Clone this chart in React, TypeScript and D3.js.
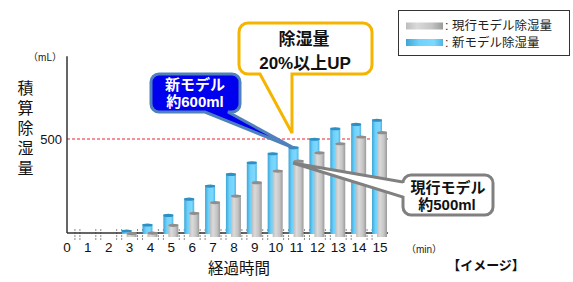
import React from 'react';
import * as d3 from 'd3';

const minutes = [0, 1, 2, 3, 4, 5, 6, 7, 8, 9, 10, 11, 12, 13, 14, 15];
const newModel = [0, 0, 0, 16, 48, 99, 185, 255, 317, 379, 427, 459, 504, 560, 583, 605];
const currentModel = [0, 0, 0, 2, 5, 46, 110, 167, 202, 273, 335, 388, 432, 480, 516, 539];
const legendLabels = [': 現行モデル除湿量', ': 新モデル除湿量'];
const yTitle = ['積', '算', '除', '湿', '量'];
const refValue = 500;

const W = 573;
const H = 282;
const font = '"Liberation Sans", "Noto Sans CJK JP", sans-serif';

// rounded rect with a tail on the bottom or left edge
const callout = (
  x: number,
  y: number,
  w: number,
  h: number,
  r: number,
  side: 'bottom' | 'left',
  b1: number,
  b2: number,
  tx: number,
  ty: number,
) => {
  const p = d3.path();
  p.moveTo(x + r, y);
  p.lineTo(x + w - r, y);
  p.arcTo(x + w, y, x + w, y + r, r);
  p.lineTo(x + w, y + h - r);
  p.arcTo(x + w, y + h, x + w - r, y + h, r);
  if (side === 'bottom') {
    p.lineTo(b2, y + h);
    p.lineTo(tx, ty);
    p.lineTo(b1, y + h);
  }
  p.lineTo(x + r, y + h);
  p.arcTo(x, y + h, x, y + h - r, r);
  if (side === 'left') {
    p.lineTo(x, b2);
    p.lineTo(tx, ty);
    p.lineTo(x, b1);
  }
  p.lineTo(x, y + r);
  p.arcTo(x, y, x + r, y, r);
  p.closePath();
  return p.toString();
};

const App = () => {
  const x = d3.scalePoint<number>().domain(minutes).range([67, 380]);
  const y = d3.scaleLinear().domain([0, 940]).range([233, 56.3]);
  const y0 = y(0);
  const step = x.step();
  const xEnd = 388;

  const bw = 10;
  const bars = (vals: number[], dx: number, fill: string, cap: string, extra: number) =>
    vals.map((v, i) =>
      v > 0 ? (
        <g key={i}>
          <rect
            x={(x(minutes[i]) as number) + dx - bw / 2}
            y={y(v)}
            width={bw}
            height={y0 - y(v) + extra}
            fill={fill}
          />
          <ellipse cx={(x(minutes[i]) as number) + dx} cy={y(v) + 1} rx={bw / 2} ry={1.6} fill={cap} />
        </g>
      ) : null,
    );

  return (
    <svg width={W} height={H} style={{ position: 'absolute', left: 0, top: 0 }} fontFamily={font}>
      <defs>
        <linearGradient id="gBlue" x1="0" x2="1" y1="0" y2="0">
          <stop offset="0" stopColor="#3ea6d6" />
          <stop offset="0.35" stopColor="#6fd2fb" />
          <stop offset="0.75" stopColor="#7dd8ff" />
          <stop offset="1" stopColor="#4fb4e2" />
        </linearGradient>
        <linearGradient id="gGrey" x1="0" x2="1" y1="0" y2="0">
          <stop offset="0" stopColor="#bdbdbd" />
          <stop offset="0.3" stopColor="#dadada" />
          <stop offset="0.7" stopColor="#c4c4c4" />
          <stop offset="1" stopColor="#9a9a9a" />
        </linearGradient>
      </defs>
      <rect width={W} height={H} fill="#fff" />

      {/* reference line */}
      <line x1={67} x2={xEnd} y1={y(refValue)} y2={y(refValue)} stroke="#e8232a" strokeWidth={1} strokeDasharray="3,2" />

      {/* x ticks */}
      {minutes.slice(0, -1).map((m) => {
        const mx = (x(m) as number) + step / 2;
        return [-2.5, 2.5].map((o) => (
          <line
            key={`${m}${o}`}
            x1={mx + o}
            x2={mx + o}
            y1={y0 - 4}
            y2={y0 + 7}
            stroke="#8a8a8a"
            strokeWidth={1}
            strokeDasharray="2,1"
          />
        ));
      })}

      {/* axes */}
      <line x1={67} x2={xEnd} y1={y0} y2={y0} stroke="#333" strokeWidth={1.5} />
      <line x1={67} x2={67} y1={y(940)} y2={y0} stroke="#333" strokeWidth={1.5} />

      {bars(newModel, -3, 'url(#gBlue)', '#2f8ec2', 1)}
      {bars(currentModel, 2, 'url(#gGrey)', '#8e8e8e', 4)}

      {/* x labels */}
      {minutes.map((m) => (
        <text key={m} x={x(m)} y={251.5} fontSize={13.5} textAnchor="middle" fill="#111">
          {m}
        </text>
      ))}
      <text x={239} y={274} fontSize={15.5} textAnchor="middle" fill="#111">経過時間</text>
      <text x={424} y={252.5} fontSize={10} textAnchor="middle" fill="#222">（min）</text>
      <text x={486} y={269.5} fontSize={13} fontWeight="bold" textAnchor="middle" fill="#111">【イメージ】</text>

      {/* y labels */}
      <text x={62} y={y(refValue) + 4.5} fontSize={13} textAnchor="end" fill="#111">{refValue}</text>
      <text x={45} y={61} fontSize={10} textAnchor="middle" fill="#222">（mL）</text>
      {yTitle.map((c, i) => (
        <text key={c} x={25.5} y={94 + i * 20} fontSize={16} textAnchor="middle" fill="#111">
          {c}
        </text>
      ))}

      {/* legend */}
      <rect x={398.5} y={10.5} width={171} height={45} fill="#fff" stroke="#333" strokeWidth={1} />
      <rect x={406} y={22.5} width={37} height={7} fill="url(#gGrey)" />
      <rect x={406} y={39} width={37} height={7} fill="url(#gBlue)" />
      {legendLabels.map((t, i) => (
        <text key={t} x={445} y={30 + i * 16.5} fontSize={12.5} fill="#222">
          {t}
        </text>
      ))}

      {/* yellow callout */}
      <path d={callout(239, 23, 133, 51, 9, 'bottom', 260, 292, 292, 133)} fill="#fff" stroke="#f5b400" strokeWidth={3} />
      <text x={304} y={45} fontSize={17} fontWeight="bold" textAnchor="middle" fill="#111">除湿量</text>
      <text x={305} y={69} fontSize={17} fontWeight="bold" textAnchor="middle" fill="#111">20%以上UP</text>

      {/* blue callout */}
      <path d={callout(151, 74, 89, 38, 8, 'bottom', 205, 228, 294, 148)} fill="#0000ee" stroke="#4f81bd" strokeWidth={3} />
      <text x={195} y={90} fontSize={15} fontWeight="bold" textAnchor="middle" fill="#fff">新モデル</text>
      <text x={195} y={107} fontSize={15} fontWeight="bold" textAnchor="middle" fill="#fff">約600ml</text>

      {/* grey callout */}
      <path d={callout(403, 175, 90, 40, 8, 'left', 182, 197, 293, 163)} fill="#fff" stroke="#808080" strokeWidth={3} />
      <text x={448} y={193} fontSize={15} fontWeight="bold" textAnchor="middle" fill="#111">現行モデル</text>
      <text x={447} y={209.5} fontSize={15} fontWeight="bold" textAnchor="middle" fill="#111">約500ml</text>
    </svg>
  );
};

export default App;
